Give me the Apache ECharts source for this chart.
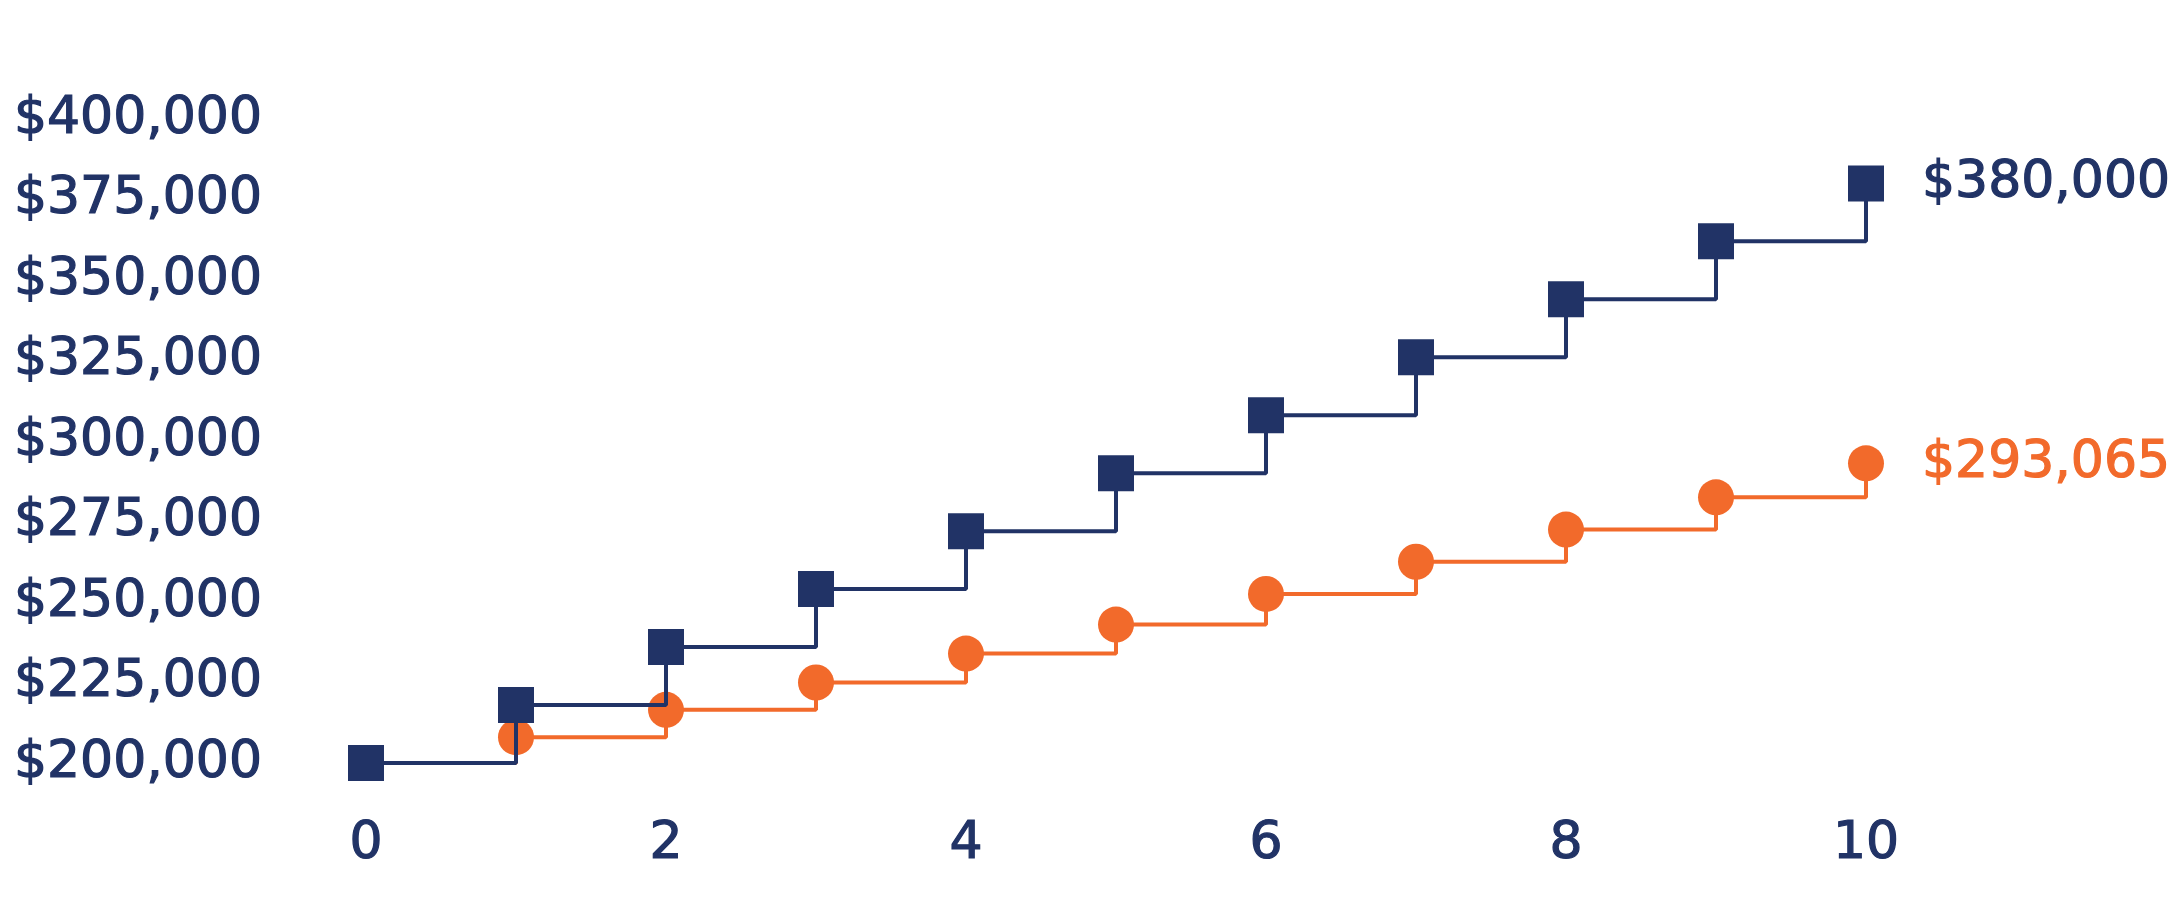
<!DOCTYPE html>
<html lang="en">
<head>
    <meta charset="UTF-8">
    <script src="https://cdn.jsdelivr.net/npm/echarts@6.0.0/dist/echarts.min.js"></script>
    <title>Value over 10 years</title>
    <style>
      html, body { margin: 0; padding: 0; background: #fff; }
    </style>
</head>
<body>
    <div id="main" style="width: 2175px;height:923px;"></div>
    <script type="text/javascript">
      // data
      var years = [0, 1, 2, 3, 4, 5, 6, 7, 8, 9, 10];
      var navyValues = [200000, 218000, 236000, 254000, 272000, 290000, 308000, 326000, 344000, 362000, 380000];
      var orangeValues = [200000, 208000, 216500, 225000, 234000, 243000, 252500, 262500, 272500, 282500, 293065];
      var xTicks = [0, 2, 4, 6, 8, 10];

      var navy = '#213366';
      var orange = '#F26A2B';
      var font = '"DejaVu Sans", sans-serif';

      function money(v) {
        return '$' + Math.round(v).toLocaleString('en-US');
      }

      function pairs(vals) {
        return years.map(function (y, i) { return [y, vals[i]]; });
      }

      function endLabel(color) {
        return {
          show: true,
          position: 'right',
          distance: 38,
          color: color,
          fontFamily: font,
          fontSize: 52,
          textBorderColor: color,
          textBorderWidth: 1.2,
          formatter: function (p) {
            return p.dataIndex === years.length - 1 ? money(p.value[1]) : '';
          }
        };
      }

      var myChart = echarts.init(document.getElementById('main'));

      var option = {
        animation: false,
        grid: { left: 366, top: 119, width: 1500, bottom: 160 },
        xAxis: {
          type: 'value',
          min: 0,
          max: 10,
          interval: 2,
          axisLine: { show: false },
          axisTick: { show: false },
          splitLine: { show: false },
          axisLabel: {
            margin: 55,
            color: navy,
            fontFamily: font,
            fontSize: 52,
            textBorderColor: navy,
            textBorderWidth: 1.2,
            formatter: function (v) { return xTicks.indexOf(v) >= 0 ? String(v) : ''; }
          }
        },
        yAxis: {
          type: 'value',
          min: 200000,
          max: 400000,
          interval: 25000,
          axisLine: { show: false },
          axisTick: { show: false },
          splitLine: { show: false },
          axisLabel: {
            margin: 104,
            color: navy,
            fontFamily: font,
            fontSize: 52,
            textBorderColor: navy,
            textBorderWidth: 1.2,
            formatter: money
          }
        },
        series: [
          {
            name: 'Orange',
            type: 'line',
            step: 'end',
            z: 2,
            data: pairs(orangeValues),
            symbol: 'circle',
            symbolSize: 36,
            lineStyle: { color: orange, width: 4 },
            itemStyle: { color: orange },
            label: endLabel(orange)
          },
          {
            name: 'Navy',
            type: 'line',
            step: 'end',
            z: 3,
            data: pairs(navyValues),
            symbol: 'rect',
            symbolSize: 36,
            lineStyle: { color: navy, width: 4 },
            itemStyle: { color: navy },
            label: endLabel(navy)
          }
        ]
      };

      myChart.setOption(option);
    </script>
</body>
</html>
